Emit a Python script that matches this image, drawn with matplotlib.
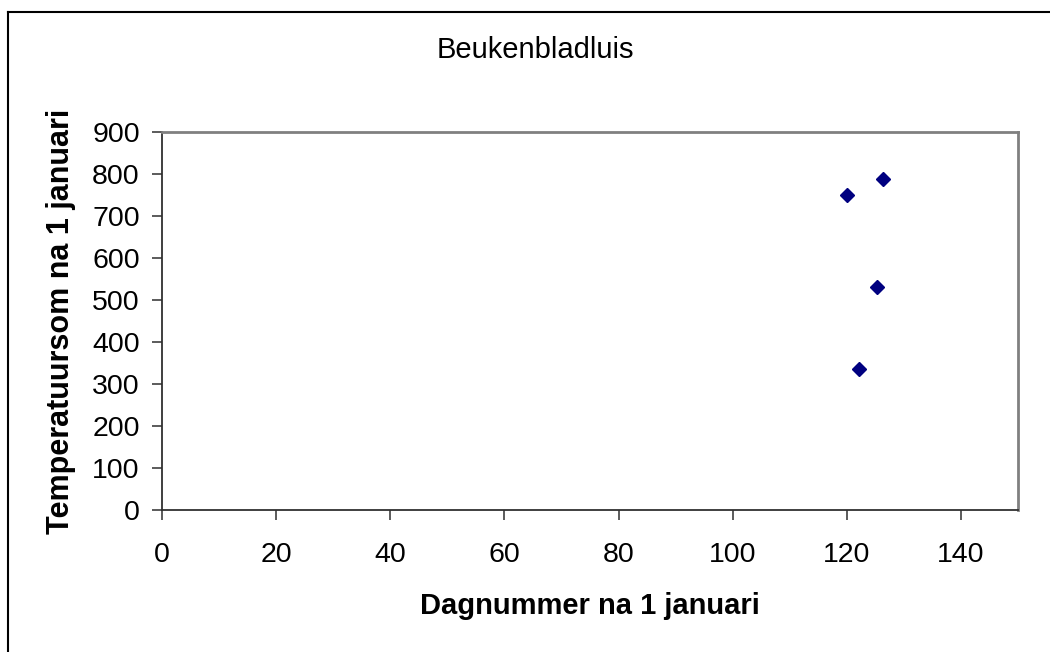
import matplotlib
matplotlib.use('Agg')
import matplotlib.pyplot as plt
from matplotlib.lines import Line2D

# 字体设置 (Arial 的替代)
plt.rcParams['font.family'] = ['Liberation Sans', 'DejaVu Sans']

# 数据
dagnummer = [120, 122.1, 125.3, 126.4]
temperatuursom = [752, 337, 532, 789]

x_ticks = [0, 20, 40, 60, 80, 100, 120, 140]
y_ticks = [0, 100, 200, 300, 400, 500, 600, 700, 800, 900]


def main():
    fig = plt.figure(figsize=(10.5, 6.52), dpi=100)
    ax = fig.add_axes([0.1543, 0.2178, 0.8152, 0.579])

    # 散点
    ax.plot(dagnummer, temperatuursom, linestyle='none', marker='D',
            markersize=7, color='#000080')

    ax.set_xlim(0, 150)
    ax.set_ylim(0, 900)
    ax.set_xticks(x_ticks)
    ax.set_yticks(y_ticks)
    ax.tick_params(axis='both', labelsize=20.5, length=7, width=1.2,
                   color='#404040', direction='out')
    ax.tick_params(axis='x', pad=16)
    ax.tick_params(axis='y', pad=9)

    # 边框
    ax.spines['left'].set_color('#303030')
    ax.spines['bottom'].set_color('#303030')
    ax.spines['left'].set_linewidth(1.3)
    ax.spines['bottom'].set_linewidth(1.3)
    ax.spines['top'].set_color('#808080')
    ax.spines['right'].set_color('#808080')
    ax.spines['top'].set_linewidth(2)
    ax.spines['right'].set_linewidth(2)

    ax.set_xlabel('Dagnummer na 1 januari', fontsize=21, fontweight='bold',
                  labelpad=17)
    ax.set_ylabel('Temperatuursom na 1 januari', fontsize=22,
                  fontweight='bold', labelpad=12)

    fig.text(535 / 1050, 1 - 50 / 652, 'Beukenbladluis', fontsize=21,
             ha='center', va='center')

    # 图表外框 (左边和上边)
    fig.add_artist(Line2D([8 / 1050, 8 / 1050], [0, 1 - 12 / 652],
                          transform=fig.transFigure, color='black', lw=1.5))
    fig.add_artist(Line2D([8 / 1050, 1], [1 - 12 / 652, 1 - 12 / 652],
                          transform=fig.transFigure, color='black', lw=1.5))

    fig.savefig('out.png', dpi=100)


if __name__ == '__main__':
    main()
